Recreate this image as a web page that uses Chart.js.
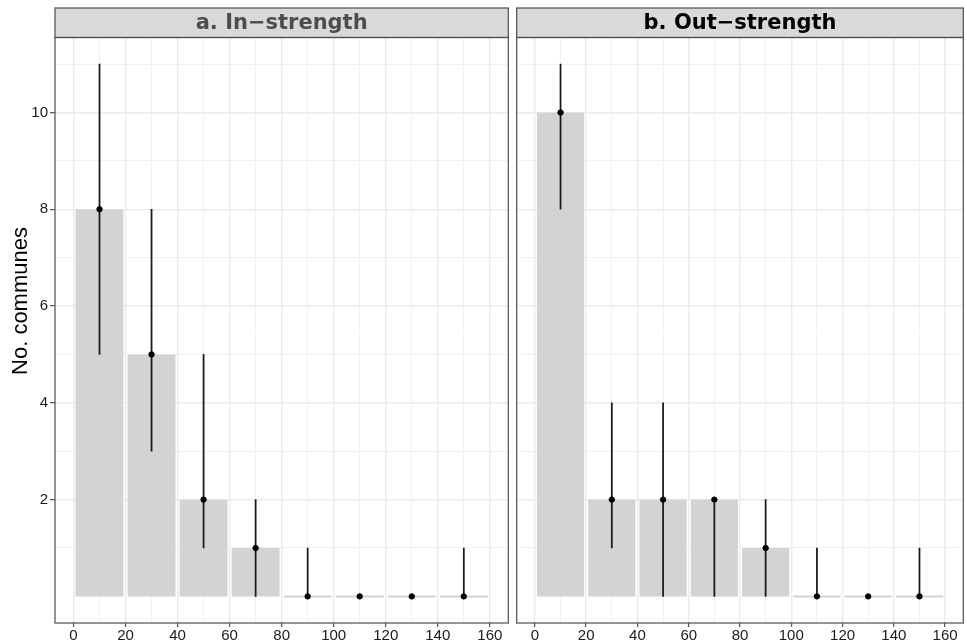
<!DOCTYPE html>
<html>
<head>
<meta charset="utf-8">
<script src="https://cdn.jsdelivr.net/npm/chart.js@4.4.1/dist/chart.umd.min.js"></script>
<style>
  html, body { margin: 0; padding: 0; background: #fff; }
  #wrap { position: relative; width: 967px; height: 644px; overflow: hidden; }
  canvas { position: absolute; top: 0; }
  #painel-a { left: 0; }
  #painel-b { left: 512px; }
</style>
</head>
<body>
<div id="wrap">
  <canvas id="painel-a" width="512" height="644"></canvas>
  <canvas id="painel-b" width="455" height="644"></canvas>
</div>
<script>
// dados (classes de 20 em 20, centro da classe)
const classes = [10, 30, 50, 70, 90, 110, 130, 150];
const inContagem = [8, 5, 2, 1, 0, 0, 0, 0];
const inInferior = [5, 3, 1, 0, 0, 0, 0, 0];
const inSuperior = [11, 8, 5, 2, 1, 0, 0, 1];
const outContagem = [10, 2, 2, 2, 1, 0, 0, 0];
const outInferior = [8, 1, 0, 0, 0, 0, 0, 0];
const outSuperior = [11, 4, 4, 2, 2, 1, 0, 1];

const xTicks = [0, 20, 40, 60, 80, 100, 120, 140, 160];
const xMenores = [10, 30, 50, 70, 90, 110, 130, 150];
const yTicks = [2, 4, 6, 8, 10];
const yMenores = [1, 3, 5, 7, 9, 11];

Chart.defaults.font.family = '"Liberation Sans", Arial, sans-serif';
Chart.defaults.animation = false;

const COR_BORDA = "#4d4d4d";
const COR_GRADE = "#ebebeb";

const molduraPlugin = {
  id: "moldura",
  afterDraw(chart, args, opts) {
    const { ctx, chartArea: a } = chart;
    ctx.save();
    // faixa do título
    ctx.fillStyle = "#d9d9d9";
    ctx.fillRect(a.left, 8, a.right - a.left, a.top - 8);
    ctx.strokeStyle = COR_BORDA;
    ctx.lineWidth = 1.2;
    ctx.strokeRect(a.left, 8, a.right - a.left, a.top - 8);
    ctx.fillStyle = opts.corTitulo;
    ctx.font = 'bold 21px "DejaVu Sans", Verdana, sans-serif';
    ctx.textAlign = "center";
    ctx.textBaseline = "middle";
    ctx.fillText(opts.titulo, (a.left + a.right) / 2, (8 + a.top) / 2 + 1);
    // borda do painel
    ctx.strokeRect(a.left, a.top, a.right - a.left, a.bottom - a.top);
    // título do eixo y
    if (opts.eixoY) {
      ctx.translate(21, 301);
      ctx.rotate(-Math.PI / 2);
      ctx.fillStyle = "#000";
      ctx.font = '22px "Liberation Sans", Arial, sans-serif';
      ctx.fillText("No. communes", 0, 0);
    }
    ctx.restore();
  },
};

function criarPainel(id, titulo, corTitulo, contagem, inferior, superior, eixoY) {
  return new Chart(document.getElementById(id), {
    type: "bar",
    data: {
      datasets: [
        {
          type: "scatter",
          data: classes.map((x, i) => ({ x, y: contagem[i] })),
          backgroundColor: "#000",
          borderColor: "#000",
          pointRadius: 2.7,
          pointHoverRadius: 2.7,
          order: 1,
        },
        {
          data: classes.map((x, i) => ({ x, y: [inferior[i], superior[i]] })),
          backgroundColor: "#1a1a1a",
          barThickness: 1.1,
          grouped: false,
          order: 2,
        },
        {
          data: classes.map((x, i) => ({ x, y: contagem[i] })),
          backgroundColor: "#d2d3d5",
          // a régua usa o espaçamento dos ticks (10), a barra ocupa 18.4
          categoryPercentage: 1,
          barPercentage: 1.84,
          minBarLength: 2,
          grouped: false,
          order: 3,
        },
      ],
    },
    options: {
      responsive: false,
      events: [],
      layout: { padding: { top: 37.5, right: eixoY ? 3.5 : 1.5, left: 0, bottom: 0 } },
      plugins: {
        legend: { display: false },
        title: { display: false },
        tooltip: { enabled: false },
        moldura: { titulo, corTitulo, eixoY },
      },
      scales: {
        x: {
          type: "linear",
          min: -7.1,
          max: 167.1,
          offset: false,
          afterBuildTicks: (s) => {
            s.ticks = [...xTicks, ...xMenores].sort((a, b) => a - b).map((v) => ({ value: v }));
          },
          afterFit: (s) => { s.height = 21; },
          border: { display: false },
          grid: {
            offset: false,
            color: COR_GRADE,
            lineWidth: (c) => (c.tick && xTicks.includes(c.tick.value) ? 1.4 : 0.7),
            tickColor: (c) => (c.tick && xTicks.includes(c.tick.value) ? "#333" : "rgba(0,0,0,0)"),
            tickLength: 4,
            tickWidth: 1,
          },
          ticks: {
            autoSkip: false,
            maxRotation: 0,
            padding: 0,
            color: "#1a1a1a",
            font: { size: 15 },
            callback: (v) => (xTicks.includes(v) ? String(v) : ""),
          },
        },
        y: {
          min: -0.55,
          max: 11.55,
          afterBuildTicks: (s) => {
            s.ticks = [...yTicks, ...yMenores].sort((a, b) => a - b).map((v) => ({ value: v }));
          },
          afterFit: (s) => { s.width = eixoY ? 55 : 4.7; },
          border: { display: false },
          grid: {
            color: COR_GRADE,
            drawTicks: eixoY,
            lineWidth: (c) => (c.tick && yTicks.includes(c.tick.value) ? 1.4 : 0.7),
            tickColor: (c) => (c.tick && yTicks.includes(c.tick.value) ? "#333" : "rgba(0,0,0,0)"),
            tickLength: 5,
            tickWidth: 1,
          },
          ticks: {
            display: eixoY,
            autoSkip: false,
            padding: 2,
            color: "#1a1a1a",
            font: { size: 15 },
            callback: (v) => (yTicks.includes(v) ? String(v) : ""),
          },
        },
      },
    },
    plugins: [molduraPlugin],
  });
}

criarPainel("painel-a", "a. In\u2212strength", "#4d4d4d", inContagem, inInferior, inSuperior, true);
criarPainel("painel-b", "b. Out\u2212strength", "#000", outContagem, outInferior, outSuperior, false);
</script>
</body>
</html>
